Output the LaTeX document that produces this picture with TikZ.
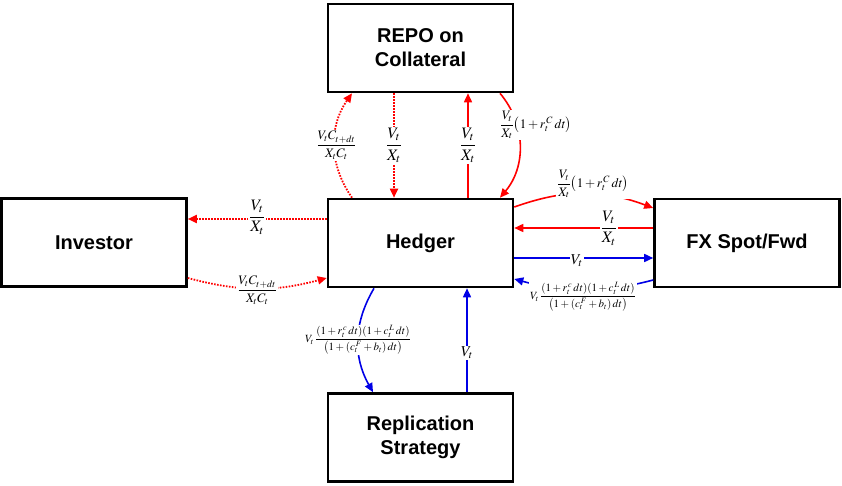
\documentclass[tikz,border=0pt]{standalone}
\usepackage{mathptmx}
\usepackage{amsmath}
\usepackage{fontspec}
\newfontfamily\boxfont{Liberation Sans}
\usetikzlibrary{arrows.meta,calc}
\definecolor{rd}{RGB}{255,0,0}
\definecolor{bl}{RGB}{0,0,230}
\tikzset{
  box/.style={draw=black,line width=2.6pt,fill=white,minimum width=185pt,minimum height=88pt,
    font=\boxfont\bfseries\fontsize{20}{24}\selectfont,align=center,inner sep=0pt},
  tip/.style={-{Triangle[length=9pt,width=8pt]}},
  rsolid/.style={tip,draw=rd,line width=1.6pt},
  rdot/.style={tip,draw=rd,line width=1.8pt,dash pattern=on 1.6pt off 1.4pt},
  bsolid/.style={tip,draw=bl,line width=1.6pt},
  lbl/.style={fill=white,inner sep=1pt,font=\fontsize{16}{18}\selectfont},
  lblm/.style={fill=white,inner sep=1pt,font=\fontsize{13}{15}\selectfont},
  lbls/.style={fill=white,inner sep=1pt,font=\fontsize{11}{12}\selectfont},
  lblv/.style={fill=white,inner sep=1pt,font=\fontsize{15}{17}\selectfont},
}
\begin{document}
\begin{tikzpicture}[x=1pt,y=-1pt]
\useasboundingbox (0,0) rectangle (842,486);
\node[box] (repo) at (420.5,48) {REPO on\\Collateral};
\node[box] (hedger) at (420.5,243) {Hedger};
\node[box] (investor) at (94,242.5) {Investor};
\node[box] (fx) at (747,243) {FX Spot/Fwd};
\node[box] (repl) at (420.5,437.5) {Replication\\Strategy};

% Investor <-> Hedger
\draw[rdot] (hedger.west |- 0,219) -- node[lbl,yshift=2pt] (l1) {$\dfrac{V_t}{X_t}$} (investor.east |- 0,219);
\draw[rdot] (investor.east |- 0,278) to[bend right=15] node[lblm,yshift=-2pt] (l2) {$\dfrac{V_tC_{t+dt}}{X_tC_t}$} (hedger.west |- 0,278);

% Hedger <-> REPO
\draw[rdot] (352,0 |- hedger.north) to[bend left=35] node[lblm,pos=0.5,xshift=2pt] (l3) {$\dfrac{V_tC_{t+dt}}{X_tC_t}$} (352,0 |- repo.south);
\draw[rdot] (394,0 |- repo.south) -- node[lbl] (l4) {$\dfrac{V_t}{X_t}$} (394,0 |- hedger.north);
\draw[rsolid] (468,0 |- hedger.north) -- node[lbl] (l5) {$\dfrac{V_t}{X_t}$} (468,0 |- repo.south);
\draw[rsolid] (500,0 |- repo.south) to[bend left=40] coordinate[pos=0.3] (c6) (500,0 |- hedger.north);
\node[lblm] (l6) at (536,125) {$\dfrac{V_t}{X_t}\bigl(1+r_t^{\,C}\,dt\bigr)$};

% Hedger <-> FX
\draw[rsolid] (hedger.east |- 0,207) to[bend left=20] coordinate[pos=0.5] (c7) (fx.west |- 0,208);
\node[lblm] (l7) at (593,184) {$\dfrac{V_t}{X_t}\bigl(1+r_t^{\,C}\,dt\bigr)$};
\draw[rsolid] (fx.west |- 0,228) -- node[lbl,pos=0.32] (l8) {$\dfrac{V_t}{X_t}$} (hedger.east |- 0,228);
\draw[bsolid] (hedger.east |- 0,258) -- node[lblv,pos=0.45,yshift=-3pt] (l9) {$V_t$} (fx.west |- 0,258);
\draw[bsolid] (fx.west |- 0,280) to[bend left=15] coordinate[pos=0.5] (c10) (hedger.east |- 0,279);
\node[lbls] (l10) at (583,297) {$V_t\,\dfrac{(1+r_t^{\,c}\,dt)(1+c_t^{\,L}\,dt)}{\bigl(1+(c_t^{\,F}+b_t)\,dt\bigr)}$};

% Hedger <-> Replication
\draw[bsolid] (374,0 |- hedger.south) to[bend right=30] coordinate[pos=0.5] (c11) (373,0 |- repl.north);
\node[lbls] (l11) at (358,340) {$V_t\,\dfrac{(1+r_t^{\,c}\,dt)(1+c_t^{\,L}\,dt)}{\bigl(1+(c_t^{\,F}+b_t)\,dt\bigr)}$};
\draw[bsolid] (467,0 |- repl.north) -- node[lblv,pos=0.38] (l12) {$V_t$} (467,0 |- hedger.south);
\end{tikzpicture}
\end{document}
